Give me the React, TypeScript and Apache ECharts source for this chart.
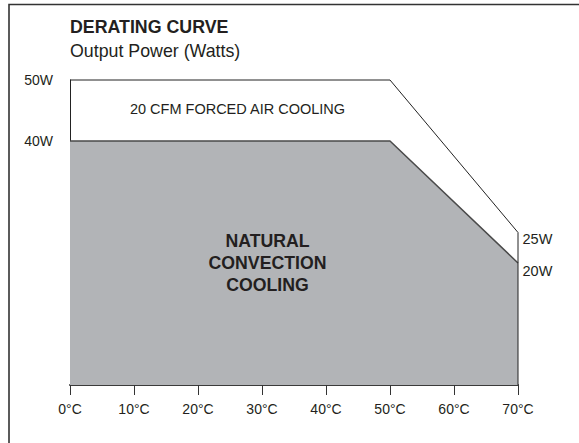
import React, { useEffect, useRef } from "react";
import * as echarts from "echarts";

const temps = [0, 50, 70];
const forcedPower = [50, 50, 25];
const naturalPower = [40, 40, 20];
const xTicks = [0, 10, 20, 30, 40, 50, 60, 70];
const yLabelValues = [40, 50];
const title = "DERATING CURVE";
const subtitle = "Output Power (Watts)";
const forcedText = "20 CFM FORCED AIR COOLING";
const naturalText = "NATURAL\nCONVECTION\nCOOLING";

const FONT = "'Liberation Sans', Arial, Helvetica, sans-serif";
const TEXT = "#231f20";

export default function App() {
  const ref = useRef<HTMLDivElement>(null);
  useEffect(() => {
    if (!ref.current) return;
    const chart = echarts.init(ref.current, undefined, { renderer: "svg" });
    const xMin = xTicks[0];
    const xMax = xTicks[xTicks.length - 1];
    const last = temps.length - 1;
    const labelFor = (i: number, v: number, dy: number) =>
      i === last
        ? {
            show: true,
            position: "right",
            distance: 4,
            offset: [0, dy],
            formatter: `${v}W`,
            fontSize: 14.5,
            color: TEXT,
            fontFamily: FONT,
          }
        : { show: false };
    const forcedData: any[] = temps.map((t, i) => ({
      value: [t, forcedPower[i]],
      label: labelFor(i, forcedPower[i], 6),
    }));
    forcedData.push({ value: [temps[last], 0], label: { show: false } });
    const naturalData = temps.map((t, i) => ({
      value: [t, naturalPower[i]],
      label: labelFor(i, naturalPower[i], 8),
    }));
    const hiddenSymbol = {
      symbol: "circle",
      symbolSize: 1,
      showSymbol: true,
      itemStyle: { color: "rgba(0,0,0,0)", borderWidth: 0 },
    };
    chart.setOption({
      animation: false,
      backgroundColor: "#ffffff",
      grid: { left: 70, right: 61, top: 80, bottom: 58 },
      xAxis: {
        type: "value",
        min: xMin,
        max: xMax,
        interval: 10,
        axisLine: { show: true, lineStyle: { color: "#3a3a3a", width: 2 } },
        axisTick: { show: true, length: 10, lineStyle: { color: "#333", width: 1 } },
        axisLabel: {
          margin: 17,
          fontSize: 14,
          color: TEXT,
          fontFamily: FONT,
          formatter: (v: number) => `${v}°C`,
        },
        splitLine: { show: false },
      },
      yAxis: {
        type: "value",
        min: 0,
        max: 50,
        interval: 10,
        axisLine: { show: true, lineStyle: { color: "#222", width: 1 } },
        axisTick: { show: false },
        axisLabel: {
          margin: 17,
          fontSize: 14,
          color: TEXT,
          fontFamily: FONT,
          formatter: (v: number) => (yLabelValues.includes(v) ? `${v}W` : ""),
        },
        splitLine: { show: false },
      },
      series: [
        {
          type: "line",
          name: "forced",
          data: forcedData,
          ...hiddenSymbol,
          lineStyle: { color: "#222", width: 1 },
          clip: false,
          z: 3,
        },
        {
          type: "line",
          name: "natural",
          data: naturalData,
          ...hiddenSymbol,
          lineStyle: { color: "#4a4a4a", width: 1.5 },
          areaStyle: { color: "#b2b4b7", opacity: 1 },
          clip: false,
          z: 2,
        },
      ],
      graphic: [
        {
          type: "rect",
          shape: { x: 9, y: 4.5, width: 700, height: 600 },
          style: { fill: "none", stroke: "#333", lineWidth: 1.6 },
          silent: true,
        },
        {
          type: "text",
          x: 70,
          y: 27,
          style: {
            text: title,
            fontSize: 17.8,
            fontWeight: "bold",
            fontFamily: FONT,
            fill: TEXT,
            verticalAlign: "middle",
          },
        },
        {
          type: "text",
          x: 70,
          y: 50.5,
          style: {
            text: subtitle,
            fontSize: 17.8,
            fontFamily: FONT,
            fill: TEXT,
            verticalAlign: "middle",
          },
        },
        {
          type: "text",
          x: 237.5,
          y: 109,
          style: {
            text: forcedText,
            fontSize: 14.5,
            fontFamily: FONT,
            fill: TEXT,
            align: "center",
            verticalAlign: "middle",
          },
          z: 10,
        },
        {
          type: "text",
          x: 267.5,
          y: 263,
          style: {
            text: naturalText,
            fontSize: 17.7,
            fontWeight: "bold",
            fontFamily: FONT,
            fill: TEXT,
            align: "center",
            verticalAlign: "middle",
            lineHeight: 22,
          },
          z: 10,
        },
      ],
    });
    return () => chart.dispose();
  }, []);
  return (
    <div
      ref={ref}
      style={{ position: "fixed", left: 0, top: 0, width: 579, height: 443 }}
    />
  );
}
